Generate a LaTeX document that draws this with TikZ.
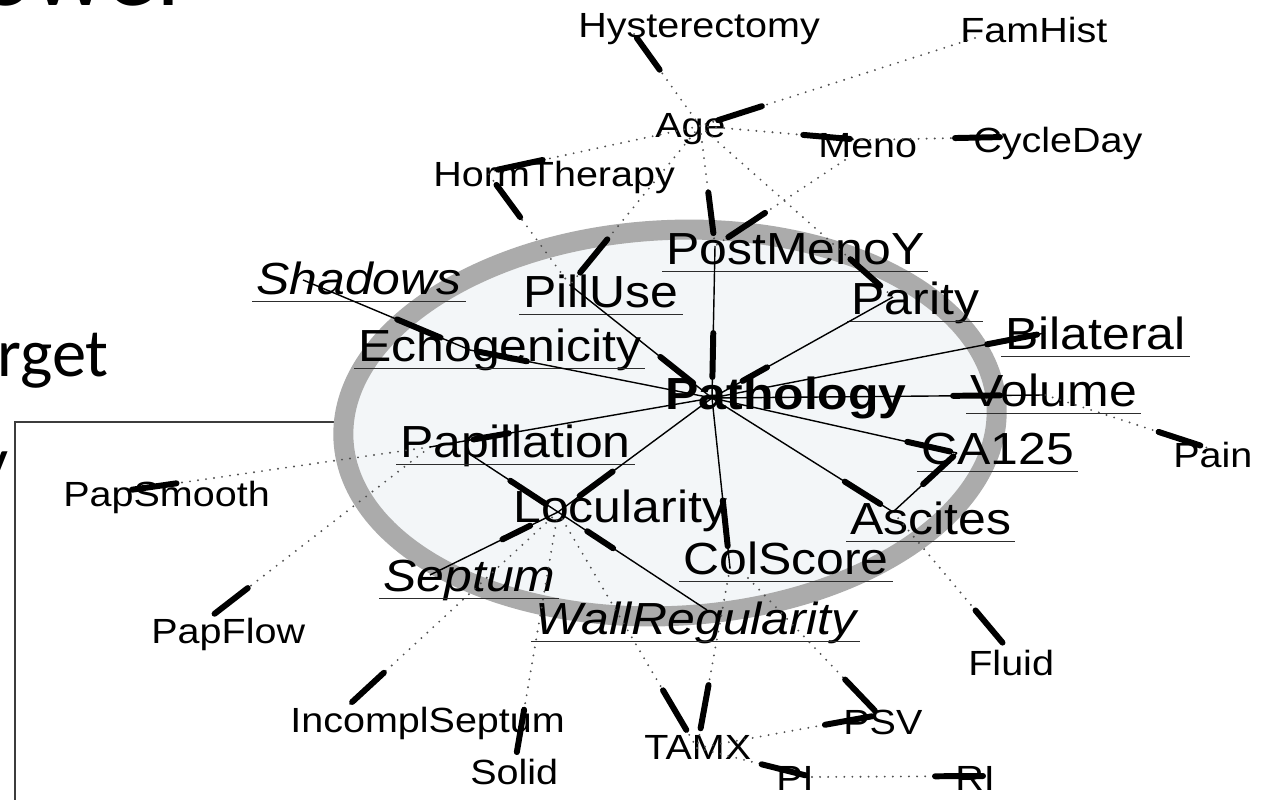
\documentclass[tikz,border=0pt]{standalone}
\usepackage{fontspec}
\setmainfont{Liberation Sans}
\newfontfamily\grsmall[FakeStretch=1.13]{Liberation Sans}
\newfontfamily\grbig[FakeStretch=1.11]{Liberation Sans}
\newfontfamily\slidefont{Carlito}
\usetikzlibrary{calc}

\definecolor{ringgray}{RGB}{171,171,171}
\definecolor{blanket}{RGB}{243,246,248}
\definecolor{dotgray}{RGB}{80,80,80}
\definecolor{rulegray}{RGB}{45,45,45}
\definecolor{framegray}{RGB}{60,60,60}

\tikzset{
  lbls/.style={anchor=base west, inner sep=0pt, font=\grsmall\fontsize{19.9pt}{24pt}\selectfont},
  lblb/.style={anchor=base west, inner sep=0pt, font=\grbig\fontsize{25.6pt}{30pt}\selectfont},
  lblbi/.style={lblb, font=\grbig\fontsize{25.6pt}{30pt}\selectfont\itshape},
  lblbb/.style={lblb, font=\grbig\fontsize{25.6pt}{30pt}\selectfont\bfseries},
  slidetxt/.style={anchor=base west, inner sep=0pt, font=\slidefont\fontsize{39pt}{46pt}\selectfont},
  underl/.style={draw=rulegray, line width=1.1pt},
  inarc/.style={draw=black, line width=0.8pt},
  outarc/.style={draw=dotgray, line width=1.2pt, line cap=round, dash pattern=on 0pt off 4.6pt},
  headbar/.style={draw=black, line width=3.4pt, line cap=round},
  ring/.style={draw=ringgray, fill=blanket, line width=11.4pt},
  frame/.style={draw=framegray, line width=1.2pt}
}

% arc from #2 to #3, heavy bar between #4 and #5 px before the head
\newcommand\bnedge[5][inarc]{%
  \draw[#1] (#2) -- (#3);
  \draw[headbar] ($(#3)!#4*0.569pt!(#2)$) -- ($(#3)!#5*0.569pt!(#2)$);}
% rule under a variable name
\newcommand\lblrule[1]{%
  \draw[underl] ([xshift=-2pt,yshift=-3.7pt]#1.base west) -- ([xshift=2pt,yshift=-3.7pt]#1.base east);}

\begin{document}
\begin{tikzpicture}[x=0.02cm, y=-0.02cm]
\clip (0,0) rectangle (1269,800);
\fill[white] (0,0) rectangle (1269,800);

% slide text and frame behind the network
\node[slidetxt, font=\slidefont\fontsize{59pt}{66pt}\selectfont] (ttl) at (-22,6) {ower};
\node[slidetxt] (tgt) at (-3,377) {rget};
\node[slidetxt] (yl) at (-23,485) {y};
\draw[frame] (340,422) -- (15,422) -- (15,805);

% Markov blanket of Pathology
\draw[ring, rotate around={3:(670,423)}] (670,423) ellipse [x radius=186.1pt, y radius=109.8pt];

% variables outside the blanket
\node[lbls] (hyst) at (578,38) {Hysterectomy};
\node[lbls] (famh) at (960,43) {FamHist};
\node[lbls] (age) at (655,138) {Age};
\node[lbls] (meno) at (818,158) {Meno};
\node[lbls] (cyc) at (973,153) {CycleDay};
\node[lbls] (horm) at (433,187) {HormTherapy};
\node[lbls] (psm) at (63,507) {PapSmooth};
\node[lbls] (pfl) at (151,643) {PapFlow};
\node[lbls] (inc) at (290,732) {IncomplSeptum};
\node[lbls] (sol) at (470,785) {Solid};
\node[lbls] (tamx) at (644,760) {TAMX};
\node[lbls] (pi) at (776,790) {PI};
\node[lbls] (ri) at (955,790) {RI};
\node[lbls] (psv) at (843,735) {PSV};
\node[lbls] (flu) at (968,676) {Fluid};
\node[lbls] (pain) at (1173,468) {Pain};

% variables of the blanket
\node[lblbi] (shad) at (256,295) {Shadows};
\node[lblb] (pill) at (523,308) {PillUse};
\node[lblb] (pmy) at (666,265) {PostMenoY};
\node[lblb] (par) at (851,315) {Parity};
\node[lblb] (echo) at (358,362) {Echogenicity};
\node[lblb] (bil) at (1005,350) {Bilateral};
\node[lblbb] (path) at (665,410) {Pathology};
\node[lblb] (vol) at (970,407) {Volume};
\node[lblb] (papi) at (400,458) {Papillation};
\node[lblb] (ca) at (921,465) {CA125};
\node[lblb] (loc) at (513,523) {Locularity};
\node[lblb] (asc) at (850,535) {Ascites};
\node[lblb] (col) at (683,575) {ColScore};
\node[lblbi] (sep) at (383,592) {Septum};
\node[lblbi] (wall) at (535,635) {WallRegularity};

\foreach \v in {shad,pill,pmy,par,echo,bil,vol,papi,ca,asc,col,sep,wall} {\lblrule{\v}}

% arc end points
\coordinate (c-hyst) at (634,34);
\coordinate (c-famh) at (975,38);
\coordinate (c-age) at (700,126);
\coordinate (c-meno) at (862,140);
\coordinate (c-menob) at (845,160);
\coordinate (c-cyc) at (1005,137);
\coordinate (c-horm) at (487,172);
\coordinate (c-pill) at (570,285);
\coordinate (c-pmy) at (715,246);
\coordinate (c-par) at (893,297);
\coordinate (c-path) at (712,398);
\coordinate (c-shad) at (303,280);
\coordinate (c-echo) at (470,350);
\coordinate (c-bil) at (1045,333);
\coordinate (c-vol) at (1045,395);
\coordinate (c-pain) at (1208,448);
\coordinate (c-ca) at (957,453);
\coordinate (c-asc) at (893,512);
\coordinate (c-flu) at (1007,648);
\coordinate (c-papi) at (430,447);
\coordinate (c-papib) at (468,453);
\coordinate (c-psm) at (130,490);
\coordinate (c-pfl) at (213,615);
\coordinate (c-loc) at (558,512);
\coordinate (c-sep) at (430,575);
\coordinate (c-wall) at (707,610);
\coordinate (c-inc) at (350,704);
\coordinate (c-sol) at (516,757);
\coordinate (c-tamx) at (697,748);
\coordinate (c-col) at (730,568);
\coordinate (c-colb) at (748,578);
\coordinate (c-psv) at (879,715);
\coordinate (c-pi) at (812,777);
\coordinate (c-ri) at (985,776);

% arcs outside the blanket
\bnedge[outarc]{c-age}{c-hyst}{5}{44}
\bnedge[outarc]{c-famh}{c-age}{19}{65}
\bnedge[outarc]{c-age}{c-meno}{12}{59}
\bnedge[outarc]{c-meno}{c-cyc}{5}{50}
\bnedge[outarc]{c-age}{c-horm}{11}{57}
\bnedge[outarc]{c-pill}{c-horm}{16}{56}
\bnedge[outarc]{c-age}{c-pill}{16}{59}
\bnedge[outarc]{c-age}{c-pmy}{13}{54}
\bnedge[outarc]{c-menob}{c-pmy}{16}{60}
\bnedge[outarc]{c-age}{c-par}{17}{57}
\bnedge[outarc]{c-vol}{c-pain}{8}{52}
\bnedge[outarc]{c-asc}{c-flu}{7}{49}
\bnedge[outarc]{c-papi}{c-psm}{2}{47}
\bnedge[outarc]{c-papi}{c-pfl}{2}{44}
\bnedge[outarc]{c-loc}{c-inc}{3}{46}
\bnedge[outarc]{c-loc}{c-sol}{5}{48}
\bnedge[outarc]{c-loc}{c-tamx}{21}{67}
\bnedge[outarc]{c-col}{c-tamx}{20}{64}
\bnedge[outarc]{c-colb}{c-psv}{6}{49}
\bnedge[outarc]{c-tamx}{c-psv}{7}{55}
\bnedge[outarc]{c-tamx}{c-pi}{7}{52}
\bnedge[outarc]{c-pi}{c-ri}{2}{50}

% arcs inside the blanket
\bnedge{c-pmy}{c-path}{21}{65}
\bnedge{c-pill}{c-path}{24}{66}
\bnedge{c-par}{c-path}{35}{63}
\bnedge{c-path}{c-echo}{7}{58}
\bnedge{c-shad}{c-echo}{32}{79}
\bnedge{c-path}{c-bil}{8}{59}
\bnedge{c-path}{c-vol}{45}{92}
\bnedge{c-path}{c-ca}{7}{51}
\bnedge{c-path}{c-asc}{15}{57}
\bnedge{c-asc}{c-ca}{5}{46}
\bnedge{c-path}{c-papi}{44}{80}
\bnedge{c-path}{c-loc}{27}{68}
\bnedge{c-papib}{c-loc}{15}{57}
\bnedge{c-sep}{c-loc}{31}{62}
\bnedge{c-wall}{c-loc}{35}{66}
\bnedge{c-path}{c-col}{22}{68}
\end{tikzpicture}
\end{document}
